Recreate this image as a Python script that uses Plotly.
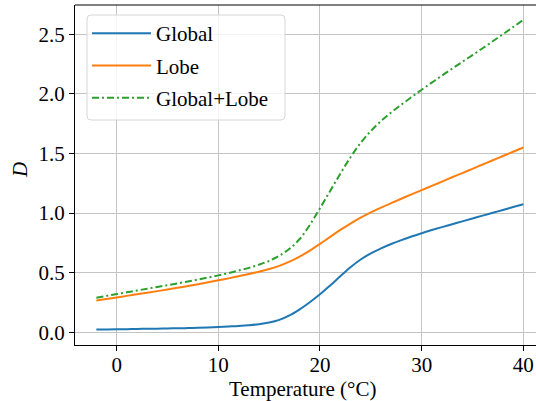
import plotly.graph_objects as go

temperature = list(range(-2, 41))
d_global = [0.023, 0.024, 0.025, 0.026, 0.028, 0.029, 0.030, 0.032, 0.033, 0.035, 0.037, 0.040, 0.044,
            0.048, 0.052, 0.058, 0.067, 0.081, 0.104, 0.141, 0.192, 0.252, 0.318, 0.392, 0.470, 0.545,
            0.610, 0.662, 0.703, 0.740, 0.773, 0.803, 0.831, 0.857, 0.882, 0.906, 0.930, 0.954, 0.978,
            1.002, 1.026, 1.050, 1.074]
d_lobe = [0.266, 0.279, 0.292, 0.305, 0.318, 0.331, 0.345, 0.359, 0.373, 0.388, 0.403, 0.419, 0.436,
          0.452, 0.469, 0.488, 0.508, 0.530, 0.557, 0.592, 0.635, 0.685, 0.741, 0.800, 0.858, 0.912,
          0.961, 1.005, 1.045, 1.083, 1.120, 1.156, 1.192, 1.228, 1.264, 1.300, 1.335, 1.371, 1.407,
          1.443, 1.478, 1.514, 1.550]
d_both = [0.290, 0.305, 0.320, 0.335, 0.350, 0.365, 0.380, 0.395, 0.410, 0.426, 0.442, 0.459, 0.477,
          0.496, 0.517, 0.540, 0.567, 0.599, 0.642, 0.700, 0.782, 0.900, 1.040, 1.185, 1.330, 1.468,
          1.588, 1.688, 1.771, 1.843, 1.909, 1.972, 2.034, 2.094, 2.153, 2.211, 2.268, 2.325, 2.382,
          2.441, 2.500, 2.560, 2.620]

x_ticks = [0, 10, 20, 30, 40]
y_ticks = [0.0, 0.5, 1.0, 1.5, 2.0, 2.5]
y_tick_labels = ["0.0", "0.5", "1.0", "1.5", "2.0", "2.5"]

FONT = "Liberation Serif"
FS = 21
W, H = 536, 401
L, R, T, B = 75, 0, 5, 56
PW, PH = W - L - R, H - T - B


def px(xp):
    return (xp - L) / PW


def py(yp):
    return 1 - (yp - T) / PH


def rounded_box(x0, y0, x1, y1, r):
    pts = [
        f"M {px(x0 + r)} {py(y0)}", f"L {px(x1 - r)} {py(y0)}",
        f"Q {px(x1)} {py(y0)} {px(x1)} {py(y0 + r)}", f"L {px(x1)} {py(y1 - r)}",
        f"Q {px(x1)} {py(y1)} {px(x1 - r)} {py(y1)}", f"L {px(x0 + r)} {py(y1)}",
        f"Q {px(x0)} {py(y1)} {px(x0)} {py(y1 - r)}", f"L {px(x0)} {py(y0 + r)}",
        f"Q {px(x0)} {py(y0)} {px(x0 + r)} {py(y0)}", "Z",
    ]
    return " ".join(pts)


fig = go.Figure()
fig.add_trace(go.Scatter(x=temperature, y=d_global, mode="lines", name="Global", legendgroup="g1",
                         line=dict(color="#1f77b4", width=2, shape="spline")))
fig.add_trace(go.Scatter(x=temperature, y=d_lobe, mode="lines", name="Lobe", legendgroup="g2",
                         line=dict(color="#ff7f0e", width=2, shape="spline")))
fig.add_trace(go.Scatter(x=temperature, y=d_both, mode="lines", name="Global+Lobe", legendgroup="g3",
                         line=dict(color="#2ca02c", width=2, shape="spline",
                                   dash="7px,3px,2px,3px")))

fig.update_layout(
    width=W, height=H,
    margin=dict(l=L, r=R, t=T, b=B, autoexpand=False),
    paper_bgcolor="white", plot_bgcolor="white",
    font=dict(family=FONT, size=FS, color="black"),
    showlegend=True,
    legend=dict(
        x=px(87), y=py(13),
        xanchor="left", yanchor="top",
        bgcolor="rgba(0,0,0,0)", borderwidth=0,
        font=dict(family=FONT, size=FS, color="black"),
        tracegroupgap=2, itemwidth=59,
    ),
    xaxis=dict(
        range=[-4.1, 41.25], tickmode="array", tickvals=x_ticks,
        showgrid=True, gridcolor="#c4c4c4", gridwidth=1,
        zeroline=False, showline=True, linecolor="black", linewidth=1, mirror=False,
        ticks="outside", ticklen=5, tickwidth=1, tickcolor="black",
        tickfont=dict(family=FONT, size=FS), fixedrange=True, automargin=False,
        ticklabelstandoff=-4, ticklabeloverflow="allow",
    ),
    yaxis=dict(
        range=[-0.107, 2.745], tickmode="array", tickvals=y_ticks, ticktext=y_tick_labels,
        showgrid=True, gridcolor="#c4c4c4", gridwidth=1,
        zeroline=False, showline=True, linecolor="black", linewidth=1, mirror=False,
        ticks="outside", ticklen=5, tickwidth=1, tickcolor="black",
        tickfont=dict(family=FONT, size=FS), fixedrange=True, automargin=False,
    ),
    shapes=[
        dict(type="line", xref="paper", yref="paper", x0=0, x1=1, y0=1, y1=1,
             line=dict(color="black", width=1)),
        dict(type="path", xref="paper", yref="paper", layer="above",
             path=rounded_box(87, 15, 285, 120, 4),
             fillcolor="rgba(255,255,255,0.8)", line=dict(color="#d6d6d6", width=1)),
    ],
    annotations=[
        dict(text="Temperature (°C)", xref="paper", yref="paper",
             x=px(302), y=py(389),
             xanchor="center", yanchor="middle", showarrow=False,
             font=dict(family=FONT, size=FS)),
        dict(text="<i>D</i>", xref="paper", yref="paper",
             x=px(20), y=py(170),
             xanchor="center", yanchor="middle", showarrow=False, textangle=-90,
             font=dict(family=FONT, size=FS)),
    ],
)

fig.write_html("out.html", config={"displayModeBar": False},
               post_script="document.body.style.margin='0';document.body.style.overflow='hidden';")
